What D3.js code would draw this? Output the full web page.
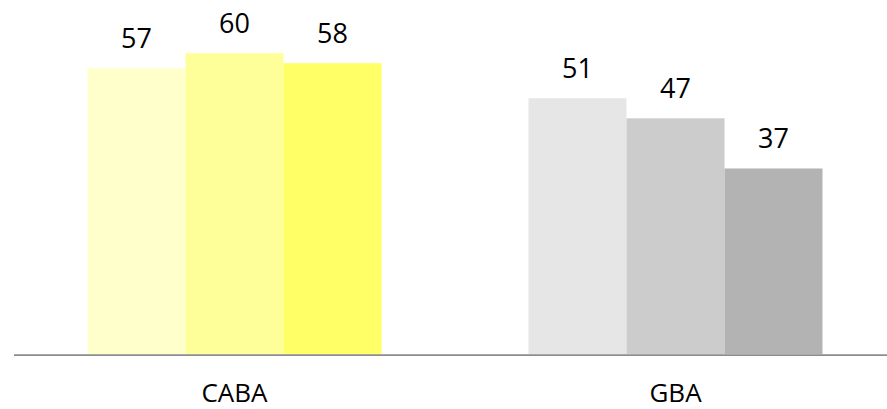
<!DOCTYPE html>
<html>
<head>
<meta charset="utf-8">
<script src="https://cdn.jsdelivr.net/npm/d3@7"></script>
<style>
  body { margin: 0; background: #fff; }
  svg text { font-family: "Open Sans", "DejaVu Sans", sans-serif; fill: #000; }
</style>
</head>
<body>
<div id="chart"></div>
<script>
// regions on the x axis, three series per region
const categories = ['CABA', 'GBA'];
const seriesKeys = ['s1', 's2', 's3'];
const cabaValues = [57, 60, 58];
const gbaValues = [51, 47, 37];
const cabaColors = ['#ffffcc', '#ffff99', '#ffff66'];
const gbaColors = ['#e6e6e6', '#cccccc', '#b3b3b3'];

const width = 887;
const height = 409;
const baseY = 354;

const data = categories.map((c, i) => ({
  code: c,
  values: (i === 0 ? cabaValues : gbaValues),
  colors: (i === 0 ? cabaColors : gbaColors)
}));

const svg = d3.select('#chart').append('svg')
  .attr('width', width)
  .attr('height', height);

const x = d3.scaleBand()
  .domain(categories)
  .range([14, 896])
  .paddingInner(1 / 3)
  .paddingOuter(1 / 6);

const xSub = d3.scaleBand()
  .domain(seriesKeys)
  .range([0, x.bandwidth()]);

const y = d3.scaleLinear()
  .domain([0, 70])
  .range([baseY, 3]);

const groups = svg.append('g').attr('class', 'plots')
  .selectAll('g.group')
  .data(data)
  .enter()
  .append('g')
  .attr('class', 'group')
  .attr('transform', (d) => `translate(${x(d.code)},0)`);

const bars = groups.selectAll('g.bar')
  .data((d) => d.values.map((v, i) => ({ key: seriesKeys[i], value: v, color: d.colors[i] })))
  .enter()
  .append('g')
  .attr('class', 'bar');

bars.append('rect')
  .attr('x', (d) => xSub(d.key))
  .attr('y', (d) => y(d.value))
  .attr('width', xSub.bandwidth())
  .attr('height', (d) => baseY - y(d.value))
  .attr('fill', (d) => d.color);

bars.append('text')
  .attr('x', (d) => xSub(d.key) + xSub.bandwidth() / 2)
  .attr('y', (d) => y(d.value))
  .attr('dy', '-20px')
  .attr('text-anchor', 'middle')
  .attr('font-size', '27px')
  .text((d) => d.value);

// x axis: grey baseline, no ticks
const xAxis = d3.axisBottom(x).tickSize(0).tickPadding(0);

const axisG = svg.append('g')
  .attr('class', 'x axis')
  .attr('transform', `translate(0,${baseY + 1})`)
  .call(xAxis);

axisG.select('.domain')
  .attr('d', `M14,0H${width}`)
  .attr('stroke', '#8c8c8c')
  .attr('stroke-width', 1.75);

// labels sit close to the bottom edge, baseline placed directly
axisG.selectAll('.tick text')
  .attr('y', 47)
  .attr('dy', null)
  .attr('font-size', '26px')
  .attr('font-family', '"Open Sans", sans-serif')
  .attr('fill', '#000');
</script>
</body>
</html>
